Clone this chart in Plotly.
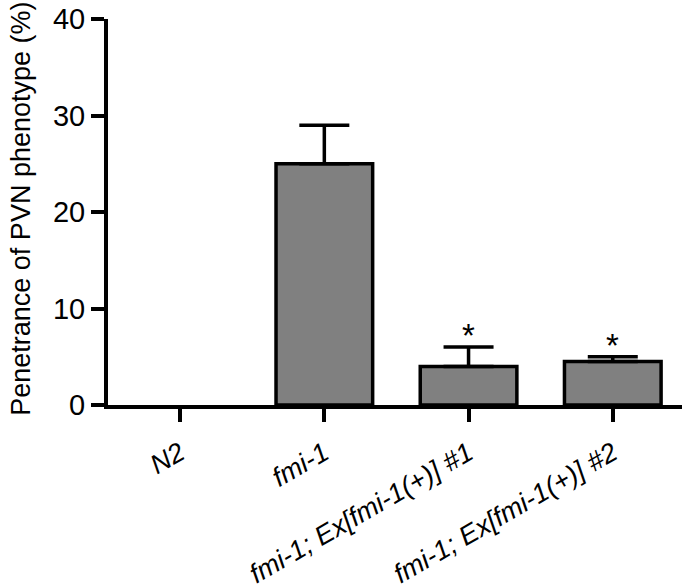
import plotly.graph_objects as go

categories = ["N2", "fmi-1", "fmi-1; Ex[fmi-1(+)] #1", "fmi-1; Ex[fmi-1(+)] #2"]
values = [0, 25, 4, 4.5]
errors_up = [0, 4, 2, 0.5]
significance = ["", "", "*", "*"]
y_ticks = [0, 10, 20, 30, 40]
y_title = "Penetrance of PVN phenotype (%)"

FONT = "Arial, Liberation Sans, sans-serif"

fig = go.Figure()
fig.add_trace(go.Bar(
    x=categories,
    y=values,
    width=0.67,
    marker=dict(color="#808080",
                line=dict(color="black", width=[0 if v == 0 else 3.5 for v in values])),
    showlegend=False,
    hoverinfo="skip",
))

# upward error bars only where a SEM exists
eb = [(c, v, e) for c, v, e in zip(categories, values, errors_up) if e]
fig.add_trace(go.Scatter(
    x=[c for c, _, _ in eb],
    y=[v for _, v, _ in eb],
    mode="none",
    error_y=dict(type="data", array=[e for _, _, e in eb], symmetric=False,
                 arrayminus=[0] * len(eb),
                 color="black", thickness=3.5, width=25),
    showlegend=False,
    hoverinfo="skip",
))

for c, v, e, s in zip(categories, values, errors_up, significance):
    if s:
        fig.add_annotation(x=c, y=v + e, text=s, showarrow=False,
                           yanchor="bottom", yshift=-9,
                           font=dict(family=FONT, size=33, color="black"))

# y-axis title placed as a rotated annotation
fig.add_annotation(xref="paper", yref="paper", x=-0.152, y=0.5, yshift=3,
                   text=y_title, textangle=-90, showarrow=False,
                   xanchor="center", yanchor="middle",
                   font=dict(family=FONT, size=27, color="black"))

fig.update_layout(
    width=682, height=584,
    margin=dict(l=108, r=0, t=19, b=179),
    paper_bgcolor="white", plot_bgcolor="white",
    font=dict(family=FONT, color="black"),
    bargap=0.33,
)
fig.update_xaxes(
    type="category",
    categoryorder="array", categoryarray=categories,
    range=[-0.5, 3.48],
    tickvals=categories,
    ticktext=[f"<i>{c}</i>" for c in categories],
    tickangle=-30,
    tickfont=dict(family=FONT, size=27, color="black"),
    ticklabelstandoff=5,
    showline=True, linecolor="black", linewidth=4,
    ticks="outside", ticklen=13, tickwidth=4, tickcolor="black",
    showgrid=False, zeroline=False, automargin=False,
)
fig.update_yaxes(
    range=[0, 40],
    tickvals=y_ticks,
    tickfont=dict(family=FONT, size=29, color="black"),
    showline=True, linecolor="black", linewidth=4,
    ticks="outside", ticklen=13, tickwidth=4, tickcolor="black",
    showgrid=False, zeroline=False, automargin=False,
)

fig.write_html(
    "out.html",
    config={"displayModeBar": False},
    post_script="document.body.style.margin='0px';document.body.style.overflow='hidden';",
)
